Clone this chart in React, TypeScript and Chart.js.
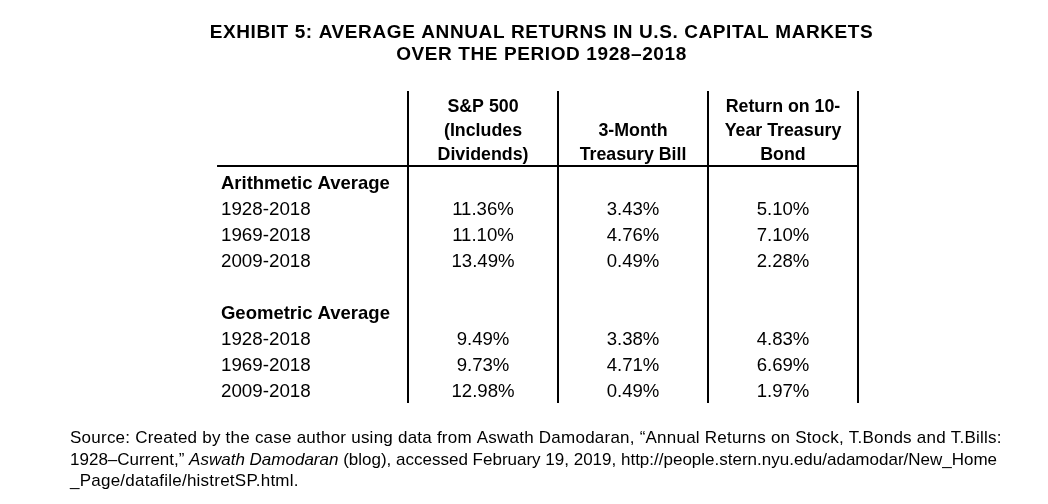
import React, { useEffect, useRef } from "react";
import { Chart, registerables } from "chart.js";

Chart.register(...registerables);

// ---------- data ----------
const titleLines = [
  "EXHIBIT 5: AVERAGE ANNUAL RETURNS IN U.S. CAPITAL MARKETS",
  "OVER THE PERIOD 1928–2018",
];
const columnHeaders = [
  ["S&P 500", "(Includes", "Dividends)"],
  ["3-Month", "Treasury Bill"],
  ["Return on 10-", "Year Treasury", "Bond"],
];
const sectionLabels = ["Arithmetic Average", "Geometric Average"];
const periods = ["1928-2018", "1969-2018", "2009-2018"];
const arithmeticSP500 = [11.36, 11.1, 13.49];
const arithmeticTBill = [3.43, 4.76, 0.49];
const arithmeticTBond = [5.1, 7.1, 2.28];
const geometricSP500 = [9.49, 9.73, 12.98];
const geometricTBill = [3.38, 4.71, 0.49];
const geometricTBond = [4.83, 6.69, 1.97];
const sourceLines: { text: string; italic?: boolean }[][] = [
  [{ text: "Source: Created by the case author using data from Aswath Damodaran, “Annual Returns on Stock, T.Bonds and T.Bills:" }],
  [
    { text: "1928–Current,” " },
    { text: "Aswath Damodaran", italic: true },
    { text: " (blog), accessed February 19, 2019, http://people.stern.nyu.edu/adamodar/New_Home" },
  ],
  [{ text: "_Page/datafile/histretSP.html." }],
];

// ---------- layout (in scale units) ----------
const FONT = '"Liberation Sans", Arial, Helvetica, sans-serif';
const X_MIN = -2.22;
const X_MAX = 4.7667;
const Y_MIN = -7.077;
const Y_MAX = 12.3077;
const ROW_LABEL_X = -0.747;
const SOURCE_X = -1.753;
const TITLE_X = 1.39;
const TITLE_ROWS = [-5.808, -4.962];
const HEADER_ROWS = [-2.962, -2.038, -1.115];
const SOURCE_ROWS = [9.769, 10.615, 11.423];
const SOURCE_SPACING = ["0.23px", "0px", "0.23px"];
const RULE_Y = -0.692;
const RULE_X0 = -0.773;
const VLINE_TOP = -3.577;
const VLINE_BOTTOM = 8.423;

const sectionRows = [0, 5];

function buildPoints(arith: number[], geo: number[], col: number) {
  const pts: { x: number; y: number; v: number }[] = [];
  arith.forEach((v, i) => pts.push({ x: col, y: sectionRows[0] + 1 + i, v }));
  geo.forEach((v, i) => pts.push({ x: col, y: sectionRows[1] + 1 + i, v }));
  return pts;
}

function setSpacing(ctx: any, px: string) {
  if ("letterSpacing" in ctx) ctx.letterSpacing = px;
}

const tablePlugin = {
  id: "tablePlugin",
  afterDatasetsDraw(chart: any) {
    const ctx: CanvasRenderingContext2D = chart.ctx;
    const xs = chart.scales.x;
    const ys = chart.scales.y;
    const px = (v: number) => xs.getPixelForValue(v);
    const py = (v: number) => ys.getPixelForValue(v);
    ctx.save();
    ctx.fillStyle = "#000";
    ctx.strokeStyle = "#000";
    ctx.textBaseline = "middle";

    // title
    ctx.font = `bold 19px ${FONT}`;
    setSpacing(ctx, "0.6px");
    ctx.textAlign = "center";
    titleLines.forEach((t, i) => ctx.fillText(t, px(TITLE_X), py(TITLE_ROWS[i])));
    setSpacing(ctx, "0px");

    // rules
    ctx.lineWidth = 2;
    [0.5, 1.5, 2.5, 3.5].forEach((c) => {
      ctx.beginPath();
      ctx.moveTo(px(c), py(VLINE_TOP));
      ctx.lineTo(px(c), py(VLINE_BOTTOM));
      ctx.stroke();
    });
    ctx.beginPath();
    ctx.moveTo(px(RULE_X0), py(RULE_Y));
    ctx.lineTo(px(3.5) + 1, py(RULE_Y));
    ctx.stroke();

    // column headers (bottom aligned)
    ctx.font = `bold 17.8px ${FONT}`;
    ctx.textAlign = "center";
    columnHeaders.forEach((lines, c) => {
      const offset = HEADER_ROWS.length - lines.length;
      lines.forEach((l, k) => ctx.fillText(l, px(c + 1), py(HEADER_ROWS[offset + k])));
    });

    // row labels
    ctx.textAlign = "left";
    sectionLabels.forEach((s, si) => {
      ctx.font = `bold 18.5px ${FONT}`;
      ctx.fillText(s, px(ROW_LABEL_X), py(sectionRows[si]));
      ctx.font = `18.8px ${FONT}`;
      periods.forEach((p, i) => ctx.fillText(p, px(ROW_LABEL_X), py(sectionRows[si] + 1 + i)));
    });

    // values
    ctx.font = `18.6px ${FONT}`;
    ctx.textAlign = "center";
    chart.data.datasets.forEach((ds: any, di: number) => {
      const meta = chart.getDatasetMeta(di);
      meta.data.forEach((el: any, j: number) => {
        ctx.fillText(ds.data[j].v.toFixed(2) + "%", el.x, el.y);
      });
    });

    // source
    ctx.textAlign = "left";
    sourceLines.forEach((segs, i) => {
      setSpacing(ctx, SOURCE_SPACING[i]);
      let x = px(SOURCE_X);
      segs.forEach((s) => {
        ctx.font = `${s.italic ? "italic " : ""}17px ${FONT}`;
        ctx.fillText(s.text, x, py(SOURCE_ROWS[i]));
        x += ctx.measureText(s.text).width;
      });
    });
    setSpacing(ctx, "0px");
    ctx.restore();
  },
};

export default function App() {
  const ref = useRef<HTMLCanvasElement | null>(null);
  useEffect(() => {
    if (!ref.current) return;
    const chart = new Chart(ref.current, {
      type: "scatter",
      data: {
        datasets: [
          { label: "S&P 500", data: buildPoints(arithmeticSP500, geometricSP500, 1) as any, pointRadius: 0 },
          { label: "3-Month Treasury Bill", data: buildPoints(arithmeticTBill, geometricTBill, 2) as any, pointRadius: 0 },
          { label: "10-Year Treasury Bond", data: buildPoints(arithmeticTBond, geometricTBond, 3) as any, pointRadius: 0 },
        ],
      },
      options: {
        responsive: false,
        animation: false,
        devicePixelRatio: 1,
        layout: { padding: 0 },
        plugins: { legend: { display: false }, tooltip: { enabled: false }, title: { display: false } },
        scales: {
          x: { type: "linear", min: X_MIN, max: X_MAX, display: false },
          y: { type: "linear", min: Y_MIN, max: Y_MAX, reverse: true, display: false },
        },
      },
      plugins: [tablePlugin],
    });
    return () => chart.destroy();
  }, []);
  return (
    <div style={{ position: "absolute", left: 0, top: 0, width: 1048, height: 504, background: "#fff" }}>
      <canvas ref={ref} width={1048} height={504} style={{ display: "block" }} />
    </div>
  );
}
